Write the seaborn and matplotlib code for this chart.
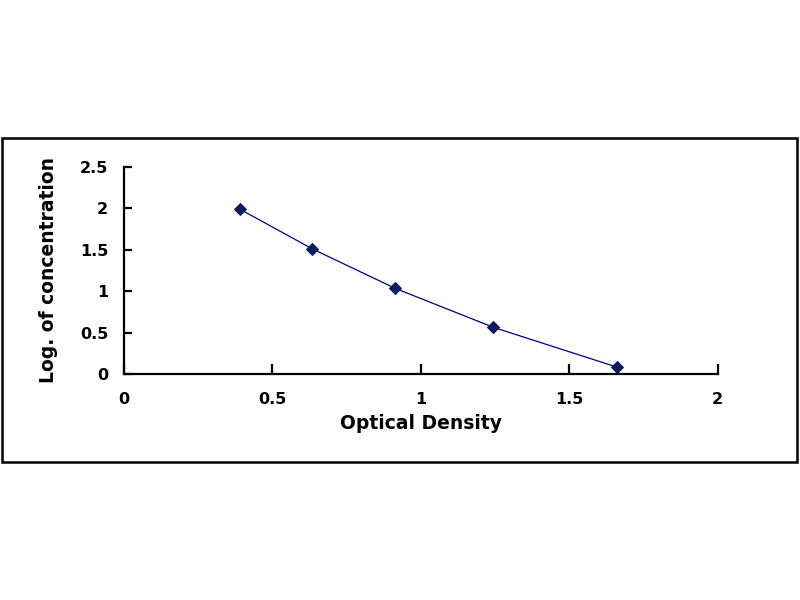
import matplotlib
matplotlib.use("Agg")
import matplotlib.pyplot as plt
import matplotlib.patches as patches
import seaborn as sns
import pandas as pd

# standard curve points
optical_density = [0.392, 0.636, 0.914, 1.245, 1.663]
log_concentration = [1.987, 1.508, 1.034, 0.563, 0.081]

x_ticks = [0, 0.5, 1, 1.5, 2]
x_tick_labels = ["0", "0.5", "1", "1.5", "2"]
y_ticks = [0, 0.5, 1, 1.5, 2, 2.5]
y_tick_labels = ["0", "0.5", "1", "1.5", "2", "2.5"]

df = pd.DataFrame({"od": optical_density, "logc": log_concentration})

sns.set_style("white")
plt.rcParams["font.family"] = ["DejaVu Sans"]
plt.rcParams["font.weight"] = "bold"
plt.rcParams["text.color"] = "black"
plt.rcParams["axes.labelcolor"] = "black"

fig = plt.figure(figsize=(8, 6), dpi=100)
fig.patch.set_facecolor("white")

# outer frame of the chart area
frame = patches.Rectangle((2 / 800, 138 / 600), 795 / 800, 324 / 600,
                          transform=fig.transFigure, fill=False,
                          edgecolor="black", linewidth=1.8)
fig.patches.append(frame)

ax = fig.add_axes([0.1544, 0.3767, 0.7425, 0.3455])
sns.lineplot(data=df, x="od", y="logc", ax=ax, color="#000080",
             linewidth=0.9, marker="D", markersize=6,
             markerfacecolor="#0d1a5e", markeredgecolor="#0d1a5e")

ax.set_xlim(0, 2)
ax.set_ylim(0, 2.5)
ax.set_xticks(x_ticks)
ax.set_xticklabels(x_tick_labels)
ax.set_yticks(y_ticks)
ax.set_yticklabels(y_tick_labels)

for side in ["top", "right"]:
    ax.spines[side].set_visible(False)
for side in ["left", "bottom"]:
    ax.spines[side].set_color("black")
    ax.spines[side].set_linewidth(1.6)

ax.tick_params(axis="x", bottom=True, direction="in", length=7, width=1.6,
               pad=13, labelsize=11.5, colors="black")
ax.tick_params(axis="y", left=True, direction="in", length=6, width=1.6,
               pad=11, labelsize=11.5, colors="black")
for lbl in ax.get_xticklabels() + ax.get_yticklabels():
    lbl.set_fontweight("bold")

ax.set_xlabel("Optical Density", fontsize=13.5, fontweight="bold",
              color="black", labelpad=5)
ax.set_ylabel("Log. of concentration", fontsize=13.5, fontweight="bold",
              color="black", labelpad=16)
ax.grid(False)

fig.savefig("out.png", dpi=100, facecolor="white")
